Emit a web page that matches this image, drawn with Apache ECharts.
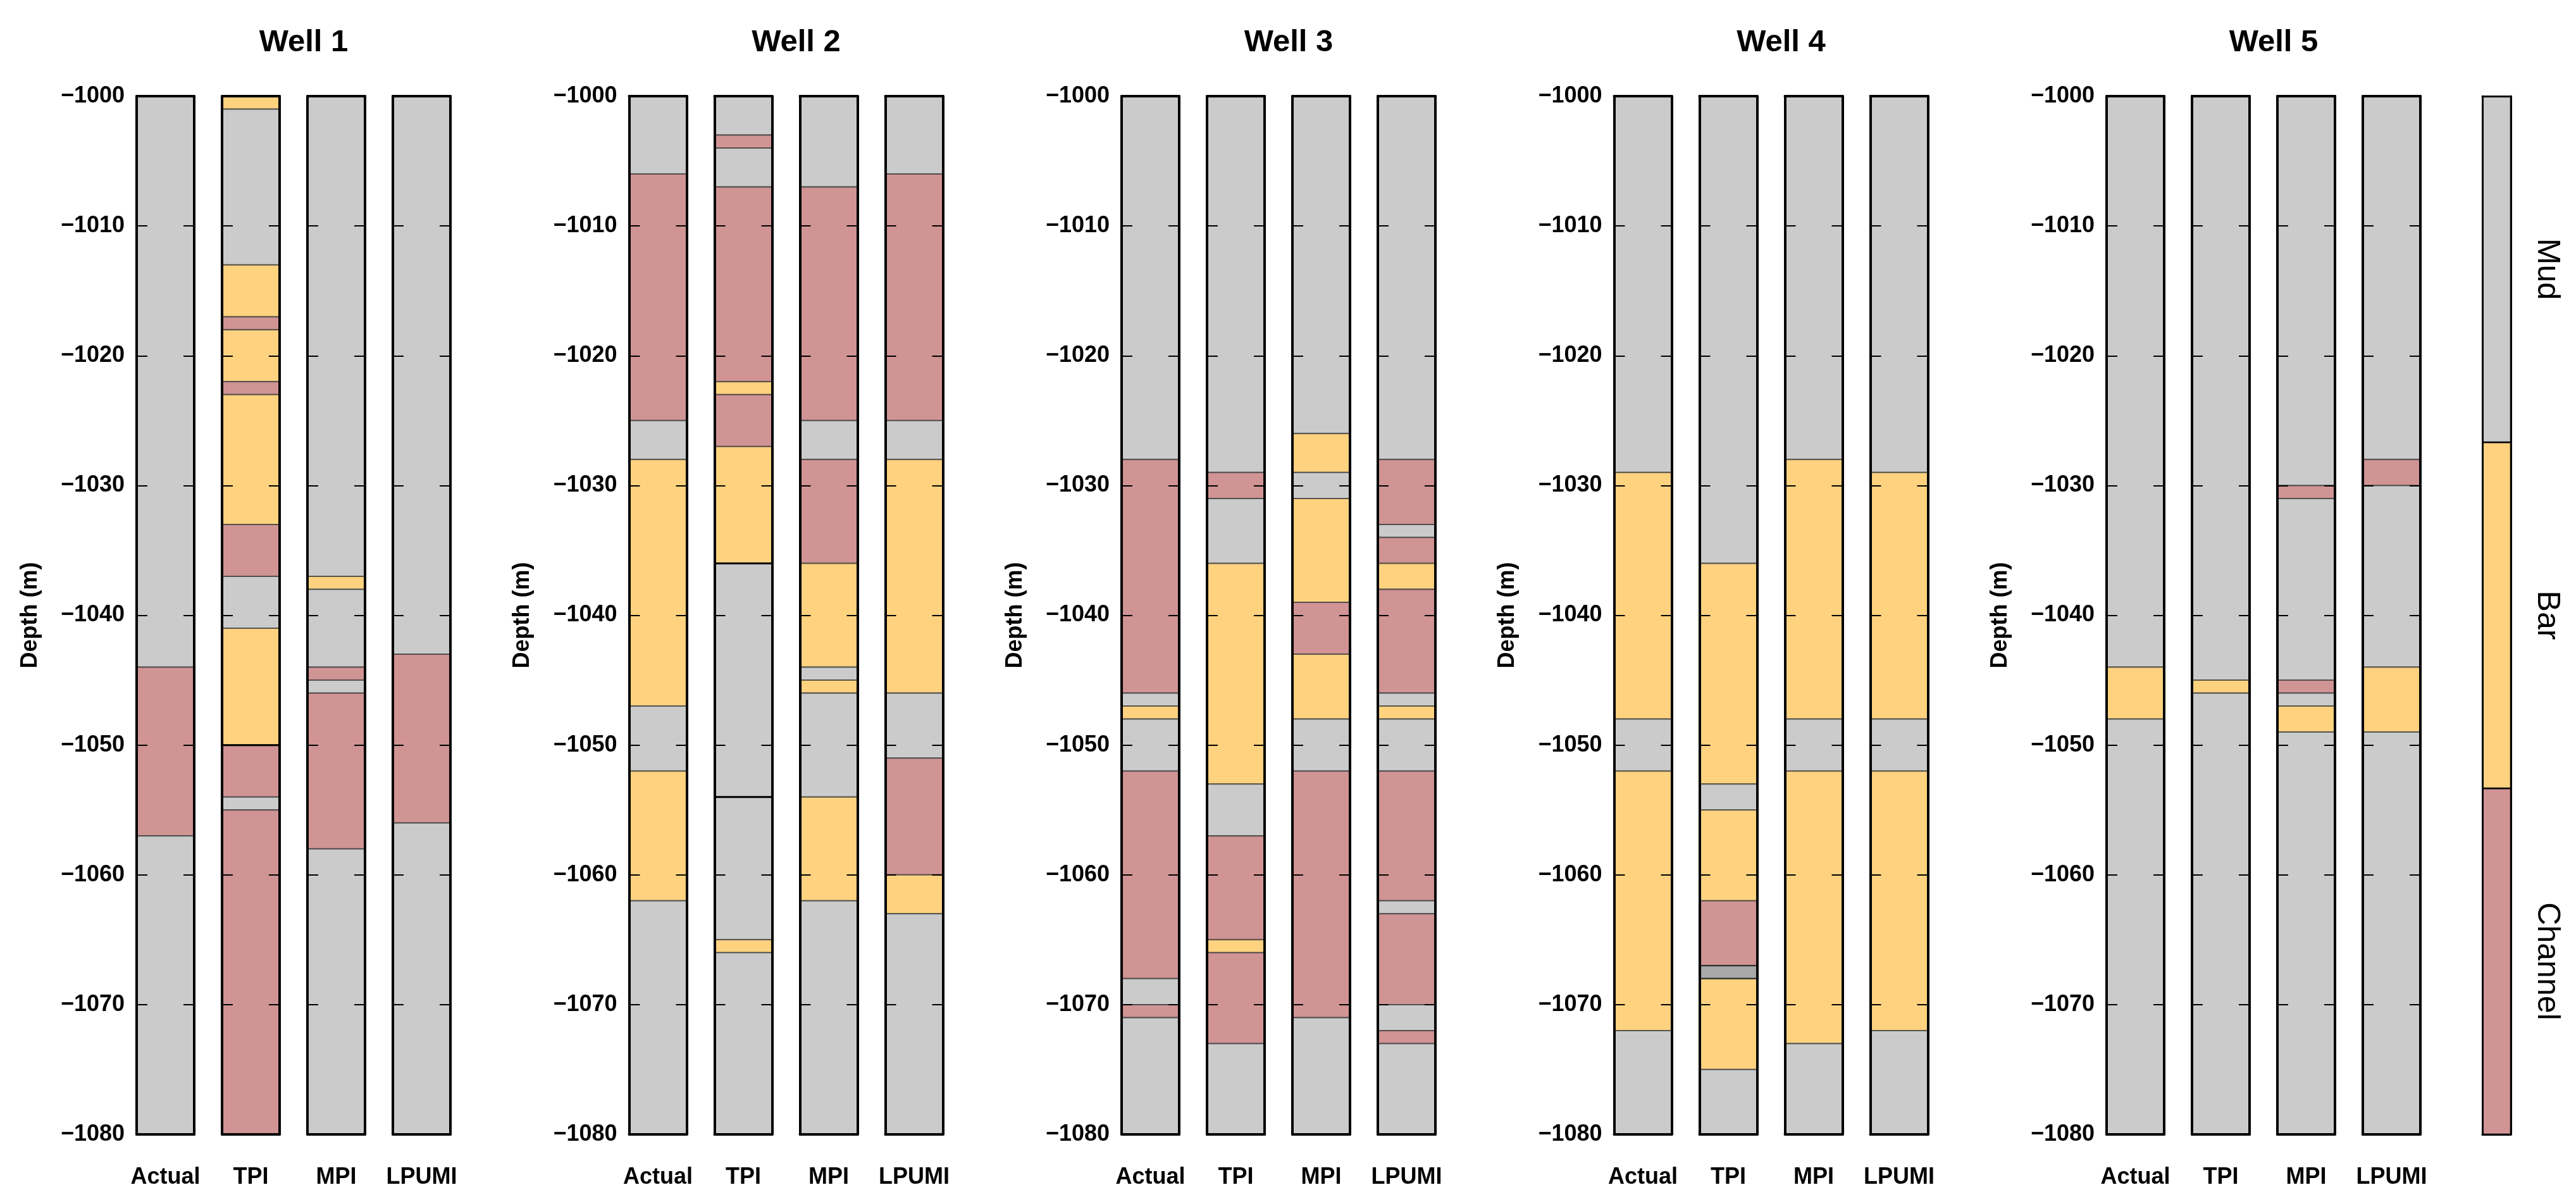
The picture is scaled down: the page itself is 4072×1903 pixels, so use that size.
<!DOCTYPE html>
<html>
<head>
<meta charset="utf-8">
<script src="https://cdn.jsdelivr.net/npm/echarts@6/dist/echarts.min.js"></script>
<style>
html,body{margin:0;padding:0;background:#fff;}
#chart{width:4072px;height:1903px;}
</style>
</head>
<body>
<div id="chart"></div>
<script>
// ---------------- data ----------------
const wellNames = ['Well 1', 'Well 2', 'Well 3', 'Well 4', 'Well 5'];
const columnNames = ['Actual', 'TPI', 'MPI', 'LPUMI'];
const faciesNames = ['Mud', 'Bar', 'Channel'];
const legendOrder = ['Channel', 'Bar', 'Mud']; // bottom to top
const depthTop = -1000;
const depthBase = -1080;
const depthStep = 10;

// each entry: [top depth of interval, facies]; interval ends at next top (or depthBase)
const well1Actual = [[-1000,'Mud'],[-1044,'Channel'],[-1057,'Mud']];
const well1TPI = [[-1000,'Bar'],[-1001,'Mud'],[-1013,'Bar'],[-1017,'Channel'],[-1018,'Bar'],[-1022,'Channel'],[-1023,'Bar'],[-1033,'Channel'],[-1037,'Mud'],[-1041,'Bar'],[-1050,'Channel'],[-1054,'Mud'],[-1055,'Channel']];
const well1MPI = [[-1000,'Mud'],[-1037,'Bar'],[-1038,'Mud'],[-1044,'Channel'],[-1045,'Mud'],[-1046,'Channel'],[-1058,'Mud']];
const well1LPUMI = [[-1000,'Mud'],[-1043,'Channel'],[-1056,'Mud']];

const well2Actual = [[-1000,'Mud'],[-1006,'Channel'],[-1025,'Mud'],[-1028,'Bar'],[-1047,'Mud'],[-1052,'Bar'],[-1062,'Mud']];
const well2TPI = [[-1000,'Mud'],[-1003,'Channel'],[-1004,'Mud'],[-1007,'Channel'],[-1022,'Bar'],[-1023,'Channel'],[-1027,'Bar'],[-1036,'Mud'],[-1054,'Mud'],[-1065,'Bar'],[-1066,'Mud']];
const well2MPI = [[-1000,'Mud'],[-1007,'Channel'],[-1025,'Mud'],[-1028,'Channel'],[-1036,'Bar'],[-1044,'Mud'],[-1045,'Bar'],[-1046,'Mud'],[-1054,'Bar'],[-1062,'Mud']];
const well2LPUMI = [[-1000,'Mud'],[-1006,'Channel'],[-1025,'Mud'],[-1028,'Bar'],[-1046,'Mud'],[-1051,'Channel'],[-1060,'Bar'],[-1063,'Mud']];

const well3Actual = [[-1000,'Mud'],[-1028,'Channel'],[-1046,'Mud'],[-1047,'Bar'],[-1048,'Mud'],[-1052,'Channel'],[-1068,'Mud'],[-1070,'Channel'],[-1071,'Mud']];
const well3TPI = [[-1000,'Mud'],[-1029,'Channel'],[-1031,'Mud'],[-1036,'Bar'],[-1053,'Mud'],[-1057,'Channel'],[-1065,'Bar'],[-1066,'Channel'],[-1073,'Mud']];
const well3MPI = [[-1000,'Mud'],[-1026,'Bar'],[-1029,'Mud'],[-1031,'Bar'],[-1039,'Channel'],[-1043,'Bar'],[-1048,'Mud'],[-1052,'Channel'],[-1071,'Mud']];
const well3LPUMI = [[-1000,'Mud'],[-1028,'Channel'],[-1033,'Mud'],[-1034,'Channel'],[-1036,'Bar'],[-1038,'Channel'],[-1046,'Mud'],[-1047,'Bar'],[-1048,'Mud'],[-1052,'Channel'],[-1062,'Mud'],[-1063,'Channel'],[-1070,'Mud'],[-1072,'Channel'],[-1073,'Mud']];

const well4Actual = [[-1000,'Mud'],[-1029,'Bar'],[-1048,'Mud'],[-1052,'Bar'],[-1072,'Mud']];
const well4TPI = [[-1000,'Mud'],[-1036,'Bar'],[-1053,'Mud'],[-1055,'Bar'],[-1062,'Channel'],[-1067,'Mud'],[-1068,'Bar'],[-1075,'Mud']];
const well4MPI = [[-1000,'Mud'],[-1028,'Bar'],[-1048,'Mud'],[-1052,'Bar'],[-1073,'Mud']];
const well4LPUMI = [[-1000,'Mud'],[-1029,'Bar'],[-1048,'Mud'],[-1052,'Bar'],[-1072,'Mud']];

const well5Actual = [[-1000,'Mud'],[-1044,'Bar'],[-1048,'Mud']];
const well5TPI = [[-1000,'Mud'],[-1045,'Bar'],[-1046,'Mud']];
const well5MPI = [[-1000,'Mud'],[-1030,'Channel'],[-1031,'Mud'],[-1045,'Channel'],[-1046,'Mud'],[-1047,'Bar'],[-1049,'Mud']];
const well5LPUMI = [[-1000,'Mud'],[-1028,'Channel'],[-1030,'Mud'],[-1044,'Bar'],[-1049,'Mud']];

const wellColumns = [
  [well1Actual, well1TPI, well1MPI, well1LPUMI],
  [well2Actual, well2TPI, well2MPI, well2LPUMI],
  [well3Actual, well3TPI, well3MPI, well3LPUMI],
  [well4Actual, well4TPI, well4MPI, well4LPUMI],
  [well5Actual, well5TPI, well5MPI, well5LPUMI]
];

// boundaries drawn as solid black lines: [well, column, depth]
const darkEdges = [[0, 1, -1050], [1, 1, -1036], [1, 1, -1054]];
// overlapping (doubly drawn) intervals: [well, column, top, bottom]
const overlapBands = [[3, 1, -1067, -1068]];

// ---------------- styles / layout ----------------
const FONT = '"Liberation Sans", Arial, sans-serif';
const faciesColors = { Mud: '#cbcbcb', Bar: '#fed27f', Channel: '#d09494' };
const GRID_TOP = 152, GRID_H = 1641;
const WELL_X0 = 216, WELL_PITCH = 778.5, COL_PITCH = 135, COL_W = 91;
const TITLE_X0 = 480, TITLE_Y = 67;

const grid = [], xAxis = [], yAxis = [], series = [], graphic = [];

function segRender(params, api) {
  const cs = params.coordSys;
  const y1 = api.coord([0, api.value(1)])[1];
  const y2 = api.coord([0, api.value(2)])[1];
  return {
    type: 'rect',
    shape: { x: cs.x, y: y1, width: cs.width, height: y2 - y1 },
    style: { fill: faciesColors[faciesNames[api.value(3)]], stroke: 'rgba(60,60,60,0.75)', lineWidth: 2 }
  };
}
function edgeRender(params, api) {
  const cs = params.coordSys;
  const y = api.coord([0, api.value(1)])[1];
  return { type: 'line', shape: { x1: cs.x, y1: y, x2: cs.x + cs.width, y2: y }, style: { stroke: '#000', lineWidth: 3 } };
}
function bandRender(params, api) {
  const cs = params.coordSys;
  const y1 = api.coord([0, api.value(1)])[1];
  const y2 = api.coord([0, api.value(2)])[1];
  return { type: 'rect', shape: { x: cs.x, y: y1, width: cs.width, height: y2 - y1 },
           style: { fill: 'rgba(0,0,0,0.17)', stroke: 'rgba(40,40,40,0.8)', lineWidth: 2 } };
}

const borderLine = { show: true, lineStyle: { color: '#000', width: 4 } };

wellColumns.forEach((cols, w) => {
  graphic.push({
    type: 'text', x: TITLE_X0 + WELL_PITCH * w, y: TITLE_Y, z: 100,
    style: { text: wellNames[w], font: 'bold 49px ' + FONT, fill: '#000', align: 'center', verticalAlign: 'middle' }
  });
  cols.forEach((segs, c) => {
    const gi = grid.length;
    grid.push({ left: WELL_X0 + WELL_PITCH * w + COL_PITCH * c, top: GRID_TOP, width: COL_W, height: GRID_H, outerBoundsMode: 'none' });
    const xb = xAxis.length;
    xAxis.push({
      gridIndex: gi, type: 'category', data: [columnNames[c]], position: 'bottom', z: 10,
      axisLine: borderLine, axisTick: { show: false }, splitLine: { show: false },
      axisLabel: { show: true, margin: 50, fontSize: 36, fontWeight: 'bold', color: '#000', fontFamily: FONT }
    });
    xAxis.push({
      gridIndex: gi, type: 'category', data: [columnNames[c]], position: 'top', z: 10,
      axisLine: borderLine, axisTick: { show: false }, axisLabel: { show: false }, splitLine: { show: false }
    });
    const yl = yAxis.length;
    const common = {
      gridIndex: gi, type: 'value', min: depthBase, max: depthTop, interval: depthStep, z: 10,
      axisLine: borderLine, splitLine: { show: false },
      axisTick: { show: true, inside: true, length: 17, lineStyle: { color: '#000', width: 2 } }
    };
    yAxis.push(Object.assign({}, common, {
      position: 'left',
      axisLabel: {
        show: c === 0, margin: 19, fontSize: 36, fontWeight: 'bold', color: '#000', fontFamily: FONT,
        showMinLabel: true, showMaxLabel: true,
        formatter: v => (v < 0 ? '\u2212' : '') + Math.abs(v)
      },
      name: c === 0 ? 'Depth (m)' : '', nameLocation: 'middle', nameRotate: 90, nameGap: 150,
      nameTextStyle: { fontSize: 36, fontWeight: 'bold', color: '#000', fontFamily: FONT }
    }));
    yAxis.push(Object.assign({}, common, { position: 'right', axisLabel: { show: false } }));

    const data = segs.map((s, i) => [0, s[0], i + 1 < segs.length ? segs[i + 1][0] : depthBase, faciesNames.indexOf(s[1])]);
    series.push({ type: 'custom', xAxisIndex: xb, yAxisIndex: yl, clip: true, z: 2, silent: true,
      encode: { x: 0, y: [1, 2] }, renderItem: segRender, data: data });

    const bands = overlapBands.filter(b => b[0] === w && b[1] === c).map(b => [0, b[2], b[3]]);
    if (bands.length) series.push({ type: 'custom', xAxisIndex: xb, yAxisIndex: yl, clip: true, z: 3, silent: true,
      encode: { x: 0, y: [1, 2] }, renderItem: bandRender, data: bands });
    const edges = darkEdges.filter(e => e[0] === w && e[1] === c).map(e => [0, e[2]]);
    if (edges.length) series.push({ type: 'custom', xAxisIndex: xb, yAxisIndex: yl, clip: true, z: 4, silent: true,
      encode: { x: 0, y: 1 }, renderItem: edgeRender, data: edges });
  });
});

// ---------------- facies legend bar ----------------
{
  const gi = grid.length;
  grid.push({ left: 3924, top: GRID_TOP, width: 45, height: GRID_H, outerBoundsMode: 'none' });
  const thin = { show: true, lineStyle: { color: '#000', width: 3 } };
  const xb = xAxis.length;
  xAxis.push({ gridIndex: gi, type: 'category', data: [''], position: 'bottom', z: 10, axisLine: thin, axisTick: { show: false }, axisLabel: { show: false } });
  xAxis.push({ gridIndex: gi, type: 'category', data: [''], position: 'top', z: 10, axisLine: thin, axisTick: { show: false }, axisLabel: { show: false } });
  yAxis.push({ gridIndex: gi, type: 'category', data: legendOrder, position: 'left', z: 10, axisLine: thin, axisTick: { show: false }, axisLabel: { show: false }, splitLine: { show: false } });
  const yr = yAxis.length;
  yAxis.push({ gridIndex: gi, type: 'category', data: legendOrder, position: 'right', z: 10, axisLine: thin, axisTick: { show: false }, splitLine: { show: false },
    axisLabel: { show: true, rotate: -90, margin: 32, fontSize: 50, color: '#000', fontFamily: FONT } });
  series.push({
    type: 'custom', xAxisIndex: xb, yAxisIndex: yr, clip: true, z: 2, silent: true,
    encode: { x: 0, y: 1 },
    data: legendOrder.map((f, i) => [0, i]),
    renderItem: (params, api) => {
      const cs = params.coordSys;
      const yc = api.coord([0, api.value(1)])[1];
      const h = api.size([0, 1])[1];
      return { type: 'rect', shape: { x: cs.x, y: yc - h / 2, width: cs.width, height: h },
        style: { fill: faciesColors[legendOrder[api.value(1)]], stroke: '#000', lineWidth: 2.5 } };
    }
  });
}

const chart = echarts.init(document.getElementById('chart'), null, { renderer: 'canvas' });
chart.setOption({
  animation: false,
  backgroundColor: '#fff',
  grid: grid, xAxis: xAxis, yAxis: yAxis, series: series, graphic: graphic
});
</script>
</body>
</html>
